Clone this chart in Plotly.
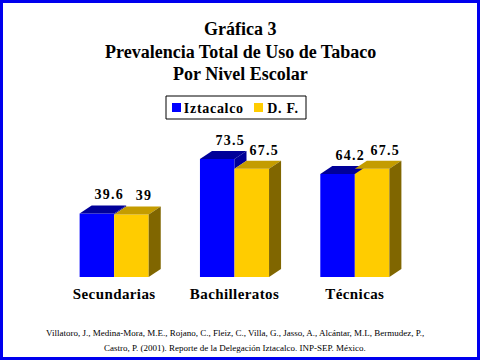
import plotly.graph_objects as go

categories = ["Secundarias", "Bachilleratos", "Técnicas"]
iztacalco = [39.6, 73.5, 64.2]
df_vals = [39.0, 67.5, 67.5]
series_names = ["Iztacalco", "D. F."]

W, H = 480, 360
ML, MR, MT, MB = 54, 65, 130, 83
PW, PH = W - ML - MR, H - MT - MB
YMAX = 91.6
BW = 0.287   # bar width (x units)
DX = 0.10    # depth offset x
DY = 5.0     # depth offset y

BLUE, BLUE_TOP = "#0000FF", "#000099"
YEL, YEL_TOP, YEL_SIDE = "#FFCC00", "#C49C00", "#806600"
SERIF = "Liberation Serif, Times New Roman, serif"


def px(x):
    return (x - ML) / PW


def py(y):
    return (H - MB - y) / PH


fig = go.Figure()
xs = list(range(len(categories)))

fig.add_trace(go.Bar(x=xs, y=iztacalco, width=BW, offset=-BW, marker=dict(color=BLUE, line=dict(width=0)),
                     name=series_names[0], showlegend=False))
fig.add_trace(go.Bar(x=xs, y=df_vals, width=BW, offset=0, marker=dict(color=YEL, line=dict(width=0)),
                     name=series_names[1], showlegend=False))


def poly(pts, color):
    xx = [p[0] for p in pts] + [pts[0][0]]
    yy = [p[1] for p in pts] + [pts[0][1]]
    fig.add_trace(go.Scatter(x=xx, y=yy, fill="toself", fillcolor=color, mode="lines",
                             line=dict(width=0, color=color), hoverinfo="skip", showlegend=False))


for i, (b, y) in enumerate(zip(iztacalco, df_vals)):
    # blue top
    poly([(i - BW, b), (i - BW + DX, b + DY), (i + DX, b + DY), (i, b)], BLUE_TOP)
    # blue side visible above the yellow bar
    if b > y:
        poly([(i, y), (i + DX, y + DY), (i + DX, b + DY), (i, b)], BLUE_TOP)
    # yellow top
    poly([(i, y), (i + DX, y + DY), (i + BW + DX, y + DY), (i + BW, y)], YEL_TOP)
    # yellow side
    poly([(i + BW, 0), (i + BW + DX, DY), (i + BW + DX, y + DY), (i + BW, y)], YEL_SIDE)

annotations = []
for i, (b, y) in enumerate(zip(iztacalco, df_vals)):
    for val, xc in ((b, i - BW / 2 + DX), (y, i + BW / 2 + DX)):
        annotations.append(dict(x=xc, y=val + DY, xref="x", yref="y", text=f"{val:g}", showarrow=False,
                                yanchor="bottom", yshift=1, xshift=1,
                                font=dict(family=SERIF, size=14, color="black", weight="bold")))

title_lines = ["Gráfica 3", "Prevalencia Total de Uso de Tabaco", "Por Nivel Escolar"]
for t, yc in zip(title_lines, [29, 52, 74]):
    annotations.append(dict(x=px(240), y=py(yc), xref="paper", yref="paper", text=t, showarrow=False,
                            xanchor="center", yanchor="middle",
                            font=dict(family=SERIF, size=18, color="black", weight="bold")))

# legend (manual)
shapes = [
    dict(type="rect", xref="paper", yref="paper", x0=px(166), x1=px(306), y0=py(96), y1=py(119),
         line=dict(color="black", width=1), fillcolor="white"),
    dict(type="rect", xref="paper", yref="paper", x0=px(172), x1=px(181), y0=py(103), y1=py(112),
         line=dict(width=0), fillcolor=BLUE),
    dict(type="rect", xref="paper", yref="paper", x0=px(254), x1=px(263), y0=py(103), y1=py(112),
         line=dict(width=0), fillcolor=YEL),
    dict(type="rect", xref="paper", yref="paper", x0=px(1.5), x1=px(478.5), y0=py(1.5), y1=py(358.5),
         line=dict(color="#0000EE", width=3), fillcolor="rgba(0,0,0,0)"),
]
for t, xl in zip(series_names, [185, 267]):
    annotations.append(dict(x=px(xl), y=py(108), xref="paper", yref="paper", text=t, showarrow=False,
                            xanchor="left", yanchor="middle",
                            font=dict(family=SERIF, size=14, color="black", weight="bold")))

footer = ["Villatoro, J., Medina-Mora, M.E., Rojano, C., Fleiz, C., Villa, G., Jasso, A., Alcántar, M.L, Bermudez, P.,",
          "Castro, P. (2001). Reporte de la Delegación Iztacalco. INP-SEP. México."]
for t, yc in zip(footer, [333, 348]):
    annotations.append(dict(x=px(235), y=py(yc), xref="paper", yref="paper", text=t, showarrow=False,
                            xanchor="center", yanchor="middle",
                            font=dict(family=SERIF, size=9, color="black")))

fig.update_layout(
    width=W, height=H, margin=dict(l=ML, r=MR, t=MT, b=MB),
    paper_bgcolor="white", plot_bgcolor="white", barmode="overlay", showlegend=False,
    xaxis=dict(range=[-0.5, 2.5], tickvals=xs, ticktext=categories, showgrid=False, zeroline=False,
               showline=False, ticks="", ticklabelstandoff=6,
               tickfont=dict(family=SERIF, size=15, color="black", weight="bold")),
    yaxis=dict(range=[0, YMAX], visible=False, showgrid=False, zeroline=False),
    annotations=annotations, shapes=shapes,
)

post = """
document.body.style.margin='0';document.body.style.overflow='hidden';
document.querySelectorAll('.annotation-text').forEach(function(t){
  var s=t.textContent;
  if(/^[0-9.]+$/.test(s)){t.style.letterSpacing='1.2px';}
  else if(s==='Iztacalco'||s==='D. F.'){t.style.letterSpacing='0.7px';}
});
document.querySelectorAll('.xtick text').forEach(function(t){t.style.letterSpacing='0.4px';});
"""
fig.write_html("out.html", config={"displayModeBar": False}, post_script=post)
